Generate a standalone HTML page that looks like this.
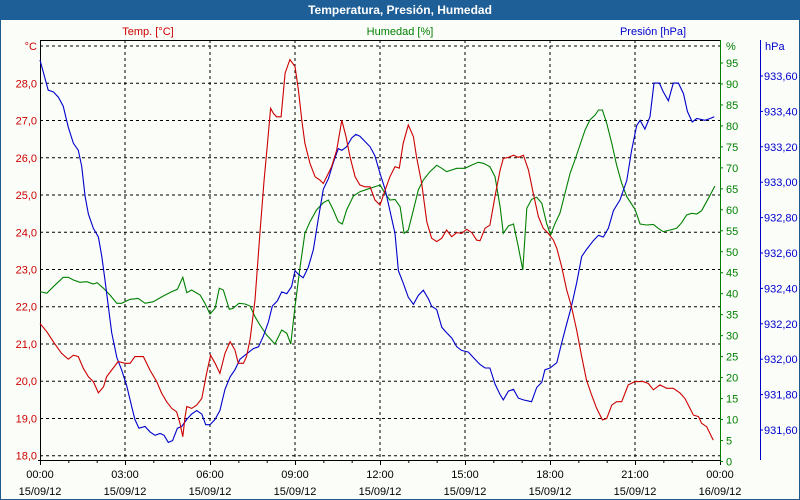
<!DOCTYPE html>
<html><head><meta charset="utf-8"><style>
html,body{margin:0;padding:0;width:800px;height:500px;overflow:hidden;background:#fbfdf9}
svg{display:block;font-family:"Liberation Sans",sans-serif}
</style></head><body>
<svg id="chart" width="800" height="500">
<rect x="0" y="0" width="800" height="500" fill="#fbfdf9" stroke="#1e5a8e" stroke-width="2"/>
<rect x="0" y="0" width="800" height="20" fill="#1e5f98"/>
<text x="400" y="14" text-anchor="middle" font-size="12" font-weight="bold" fill="#fff">Temperatura, Presión, Humedad</text>
<text x="148" y="35" text-anchor="middle" font-size="11" fill="#cc0000">Temp. [°C]</text>
<text x="400" y="35" text-anchor="middle" font-size="11" fill="#008000">Humedad [%]</text>
<text x="653" y="35" text-anchor="middle" font-size="11" fill="#0000cc">Presión [hPa]</text>
<g id="grid"></g>
<g id="axes"></g>
<g id="series"></g>
</svg>
<script>
const tempTimes=[0,.24,.47,.76,1,1.18,1.35,1.53,1.71,1.88,2.06,2.24,2.35,2.53,2.76,3,3.18,3.35,3.65,3.88,4.12,4.29,4.47,4.65,4.82,4.94,5.04,5.12,5.18,5.35,5.53,5.71,5.88,6.02,6.18,6.35,6.53,6.71,6.88,7,7.18,7.29,7.41,7.59,7.76,7.91,8.02,8.14,8.24,8.35,8.51,8.65,8.82,9,9.12,9.24,9.35,9.53,9.71,9.88,10,10.12,10.29,10.47,10.65,10.8,10.94,11.12,11.29,11.47,11.65,11.82,12,12.18,12.35,12.53,12.68,12.82,13,13.18,13.29,13.47,13.65,13.82,14,14.18,14.35,14.53,14.71,14.88,15.06,15.24,15.41,15.53,15.71,15.88,16.06,16.24,16.35,16.53,16.71,16.88,17.06,17.24,17.41,17.59,17.76,17.94,18.12,18.24,18.41,18.59,18.76,18.94,19.12,19.29,19.47,19.65,19.85,20,20.18,20.35,20.53,20.76,21,21.29,21.47,21.65,21.88,22.12,22.35,22.59,22.76,22.94,23.06,23.24,23.35,23.53,23.76];
const tempValues=[21.55,21.33,21.06,20.75,20.59,20.70,20.66,20.35,20.12,19.99,19.69,19.85,20.12,20.30,20.53,20.48,20.48,20.66,20.66,20.30,19.99,19.68,19.45,19.27,19.18,18.87,18.51,19.05,19.32,19.27,19.36,19.54,20.21,20.70,20.48,20.21,20.75,21.06,20.84,20.48,20.48,20.66,21.11,22.18,23.97,25.40,26.30,27.33,27.19,27.10,27.10,28.27,28.64,28.45,27.82,27.01,26.39,25.85,25.49,25.40,25.31,25.49,25.76,26.21,27.01,26.57,26.03,25.49,25.27,25.22,25.22,24.87,24.73,25.13,25.49,25.76,25.72,26.39,26.88,26.57,26.03,25.31,24.28,23.84,23.75,23.84,24.06,23.88,23.99,23.97,24.08,23.99,23.79,23.77,24.11,24.19,24.96,25.67,25.98,26.01,26.07,26.01,26.07,25.67,25.04,24.42,24.11,23.97,23.79,23.57,23.08,22.45,22.00,21.38,20.66,20.03,19.63,19.27,18.96,19.00,19.36,19.45,19.45,19.90,19.99,19.99,19.94,19.77,19.90,19.81,19.81,19.68,19.54,19.27,19.09,19.05,18.87,18.78,18.42];
const humTimes=[0,.24,.47,.82,1,1.18,1.41,1.65,1.88,2.02,2.24,2.47,2.71,2.88,3.18,3.47,3.71,4,4.35,4.65,4.85,5.04,5.18,5.35,5.65,5.82,6,6.18,6.33,6.47,6.68,6.82,7.02,7.24,7.41,7.59,7.76,8,8.29,8.53,8.71,8.85,9,9.18,9.35,9.53,9.76,10,10.18,10.35,10.53,10.67,10.82,11.06,11.29,11.65,12,12.18,12.35,12.53,12.71,12.85,13,13.18,13.35,13.53,13.76,14,14.18,14.35,14.71,15,15.24,15.47,15.65,15.88,16.06,16.24,16.35,16.53,16.71,16.88,17.04,17.18,17.35,17.53,17.71,17.88,18.02,18.18,18.35,18.53,18.71,18.88,19.06,19.24,19.41,19.59,19.71,19.85,20,20.18,20.35,20.53,20.71,21,21.18,21.41,21.65,21.82,22,22.24,22.47,22.65,22.82,23,23.18,23.35,23.59,23.82];
const humValues=[40.49,40.09,41.68,43.90,43.90,43.27,42.71,42.87,42.31,42.63,41.28,39.69,37.70,37.70,38.66,38.89,37.70,38.10,39.45,40.49,41.04,43.90,40.25,40.88,39.69,37.70,35.16,36.51,41.28,40.88,36.27,36.51,37.70,37.54,37.07,34.52,32.54,30.15,28.01,31.35,30.55,28.01,36.91,46.44,54.39,57.17,59.95,61.70,62.33,59.95,57.17,56.61,59.95,63.29,64.32,65.12,65.91,63.92,62.33,62.49,60.75,54.39,55.18,59.95,64.72,67.10,69.09,70.60,69.89,69.09,69.89,69.89,70.68,71.32,71.08,70.28,67.90,60.75,54.39,56.14,56.61,51.21,45.65,60.35,62.49,62.97,61.54,56.77,53.99,56.77,59.16,63.92,68.69,71.87,75.45,79.02,81.41,82.60,83.79,83.79,80.61,75.84,70.68,66.31,63.13,60.11,56.61,56.37,56.53,55.58,54.78,55.18,55.58,56.93,58.76,59.16,59.00,59.79,62.73,65.67];
const presTimes=[0,.12,.29,.47,.65,.82,1,1.18,1.35,1.47,1.59,1.71,1.88,2.06,2.18,2.29,2.41,2.53,2.71,2.88,3.06,3.24,3.35,3.49,3.71,3.88,4.06,4.24,4.38,4.53,4.68,4.85,5,5.18,5.35,5.53,5.71,5.85,6,6.18,6.35,6.53,6.71,6.88,7.06,7.29,7.53,7.71,7.88,8.06,8.2,8.38,8.53,8.71,8.88,9,9.12,9.29,9.47,9.65,9.82,10,10.18,10.35,10.53,10.65,10.82,11,11.15,11.29,11.47,11.65,11.82,12,12.18,12.35,12.53,12.65,12.82,13,13.18,13.35,13.53,13.71,13.82,14,14.18,14.35,14.53,14.71,14.88,15.12,15.29,15.53,15.71,15.88,16.06,16.24,16.35,16.53,16.71,16.88,17.06,17.35,17.53,17.71,17.82,18,18.24,18.41,18.59,18.76,18.94,19.12,19.29,19.53,19.71,19.88,20.06,20.24,20.47,20.71,20.88,21.06,21.18,21.35,21.53,21.67,21.86,22,22.18,22.35,22.53,22.71,22.85,23.02,23.18,23.47,23.65,23.8];
const presValues=[933.69,933.62,933.52,933.51,933.48,933.43,933.31,933.22,933.18,933.09,932.92,932.82,932.74,932.69,932.58,932.45,932.30,932.15,932.01,931.94,931.85,931.73,931.66,931.61,931.62,931.59,931.57,931.58,931.57,931.53,931.54,931.61,931.62,931.66,931.69,931.71,931.69,931.63,931.63,931.66,931.71,931.83,931.90,931.94,932.00,932.03,932.06,932.07,932.13,932.21,932.30,932.33,932.38,932.37,932.41,932.50,932.48,932.46,932.52,932.62,932.79,932.96,933.02,933.11,933.19,933.18,933.20,933.25,933.27,933.26,933.23,933.20,933.15,933.05,932.96,932.84,932.71,932.50,932.43,932.35,932.31,932.36,932.39,932.34,932.30,932.28,932.18,932.15,932.12,932.07,932.05,932.04,932.01,931.97,931.95,931.95,931.86,931.80,931.77,931.82,931.83,931.78,931.77,931.76,931.84,931.87,931.94,931.95,931.98,932.09,932.20,932.30,932.43,932.58,932.62,932.67,932.70,932.69,932.74,932.84,932.90,933.01,933.18,933.32,933.35,933.30,933.37,933.56,933.56,933.51,933.46,933.56,933.56,933.50,933.40,933.34,933.36,933.35,933.36,933.37];
const tempTicks=["18,0","19,0","20,0","21,0","22,0","23,0","24,0","25,0","26,0","27,0","28,0"];
const humTicks=[0,5,10,15,20,25,30,35,40,45,50,55,60,65,70,75,80,85,90,95];
const presTicks=["931,60","931,80","932,00","932,20","932,40","932,60","932,80","933,00","933,20","933,40","933,60"];
const timeLabels=["00:00","03:00","06:00","09:00","12:00","15:00","18:00","21:00","00:00"];
const dateLabels=["15/09/12","15/09/12","15/09/12","15/09/12","15/09/12","15/09/12","15/09/12","15/09/12","16/09/12"];

const X0=40,X1=720,YT=40,YB=460;
const xS=h=>X0+h*(X1-X0)/24;
const yT=t=>455.7-(t-18)*37.24;
const yH=v=>461.5-v*4.195;
const yP=p=>430-(p-931.6)*177;
const NS="http://www.w3.org/2000/svg";
function mk(tag,attrs,parent){const e=document.createElementNS(NS,tag);for(const k in attrs)e.setAttribute(k,attrs[k]);parent.appendChild(e);return e;}
const grid=document.getElementById('grid'),axes=document.getElementById('axes'),series=document.getElementById('series');

for(let t=18;t<=29;t++){
  const l=mk('line',{x1:X0,x2:X1,y1:yT(t),y2:yT(t),stroke:'#000','stroke-dasharray':'3,3','stroke-width':1},grid);
  
  
}
for(let i=1;i<8;i++){
  const l=mk('line',{x1:xS(i*3),x2:xS(i*3),y1:YT,y2:YB,stroke:'#000','stroke-dasharray':'3,3','stroke-width':1},grid);
  
  
}
// frame lines
let a=mk('line',{x1:X0,x2:X1,y1:YT+0.5,y2:YT+0.5,stroke:'#000'},axes);


a=mk('line',{x1:X0-2,x2:X1,y1:YB+0.5,y2:YB+0.5,stroke:'#000'},axes);


a=mk('line',{x1:X0+0.5,x2:X0+0.5,y1:YT,y2:YB+2,stroke:'#000'},axes);


a=mk('line',{x1:X1+0.5,x2:X1+0.5,y1:YT,y2:YB+2,stroke:'#008000'},axes);


a=mk('line',{x1:760.5,x2:760.5,y1:YT,y2:YB,stroke:'#0000cc'},axes);



for(let h=0;h<=24;h++){
  const tk=mk('line',{x1:xS(h)+0.5,x2:xS(h)+0.5,y1:YB,y2:YB+(h%3===0?5:3),stroke:'#000'},axes);
  
  
}
timeLabels.forEach((s,i)=>{
  const t=mk('text',{x:xS(i*3),y:478,'text-anchor':'middle','font-size':11,fill:'#000'},axes);t.textContent=s;
  
  
  const d=mk('text',{x:xS(i*3),y:495,'text-anchor':'middle','font-size':11,fill:'#000'},axes);d.textContent=dateLabels[i];
  
  
});
tempTicks.forEach((s,i)=>{
  const t=mk('text',{x:37,y:yT(18+i)+4,'text-anchor':'end','font-size':11,fill:'#cc0000'},axes);t.textContent=s;
  
  
});
let u=mk('text',{x:37,y:yT(29)+4,'text-anchor':'end','font-size':11,fill:'#cc0000'},axes);u.textContent='°C';


humTicks.forEach(v=>{
  const t=mk('text',{x:726,y:yH(v)+4,'font-size':11,fill:'#008000'},axes);t.textContent=String(v);
  
  
  const k=mk('line',{x1:X1,x2:X1+3,y1:yH(v),y2:yH(v),stroke:'#008000'},axes);
  
  
});
u=mk('text',{x:726,y:50,'font-size':11,fill:'#008000'},axes);u.textContent='%';


presTicks.forEach((s,i)=>{
  const p=931.6+i*0.2;
  const t=mk('text',{x:764,y:yP(p)+4,'font-size':11,fill:'#0000cc'},axes);t.textContent=s;
  
  
  const k=mk('line',{x1:760,x2:763,y1:yP(p),y2:yP(p),stroke:'#0000cc'},axes);
  
  
});
u=mk('text',{x:765,y:50,'font-size':11,fill:'#0000cc'},axes);u.textContent='hPa';



function pts(ts,vs,yf){return ts.map((t,i)=>xS(t).toFixed(1)+','+yf(vs[i]).toFixed(1)).join(' ');}
let s=mk('polyline',{points:pts(humTimes,humValues,yH),fill:'none',stroke:'#008000','stroke-width':1.1},series);


s=mk('polyline',{points:pts(presTimes,presValues,yP),fill:'none',stroke:'#0000cc','stroke-width':1.1},series);


s=mk('polyline',{points:pts(tempTimes,tempValues,yT),fill:'none',stroke:'#cc0000','stroke-width':1.1},series);


</script>
</body></html>
